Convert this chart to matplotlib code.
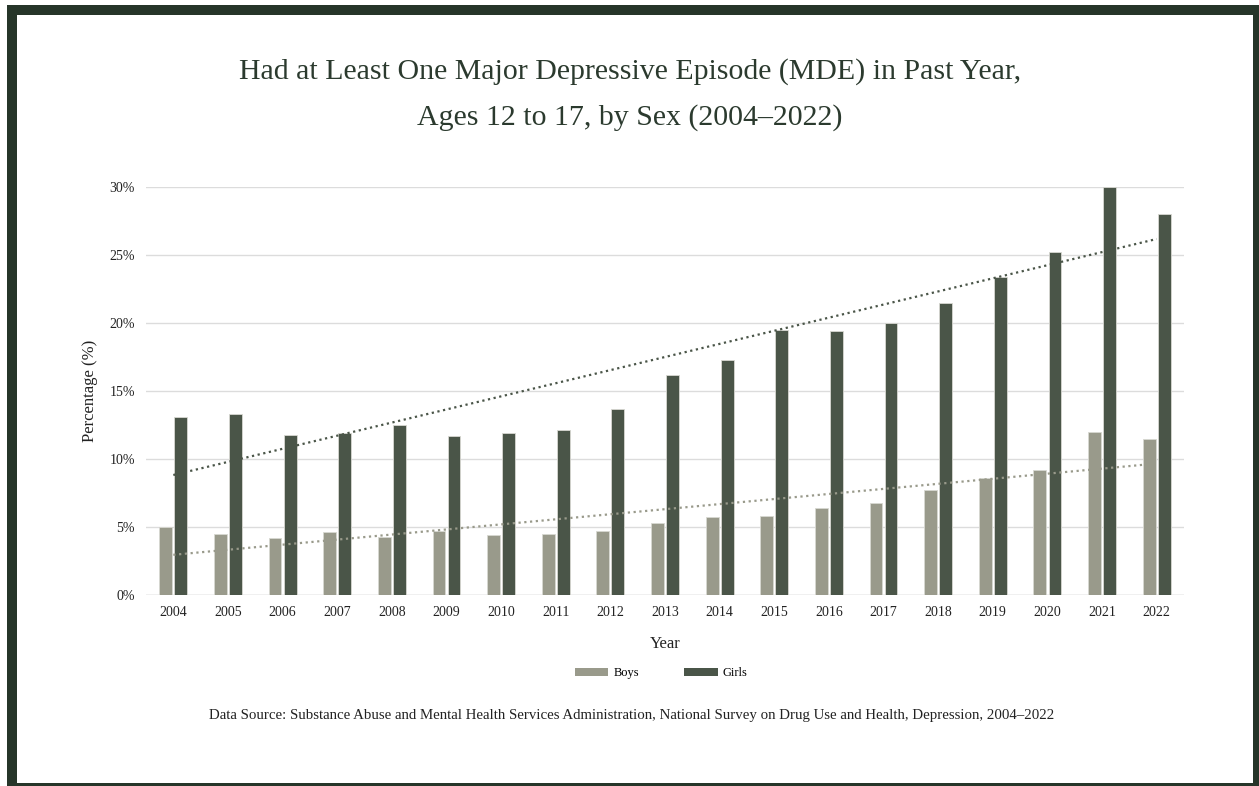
import numpy as np
import matplotlib
matplotlib.use("Agg")
import matplotlib.pyplot as plt
from matplotlib.patches import Rectangle, Patch

years = [str(y) for y in range(2004, 2023)]
boys = [5.0, 4.5, 4.2, 4.6, 4.3, 4.7, 4.4, 4.5, 4.7, 5.3, 5.7, 5.8, 6.4, 6.8, 7.7, 8.6, 9.2, 12.0, 11.5]
girls = [13.1, 13.3, 11.8, 11.9, 12.5, 11.7, 11.9, 12.1, 13.7, 16.2, 17.3, 19.5, 19.4, 20.0, 21.5, 23.4, 25.2, 30.0, 28.0]
yticks = [0, 5, 10, 15, 20, 25, 30]

BOYS_C = "#999a8b"
GIRLS_C = "#4a5548"
FRAME_C = "#263529"
TEXT_C = "#222222"

plt.rcParams['font.family'] = ['Liberation Serif', 'DejaVu Serif']

W, H = 1259, 786
fig = plt.figure(figsize=(W / 100, H / 100), dpi=100)
fig.patch.set_facecolor("white")

def fr(x0, y0, x1, y1, color):
    # pixel box (top-left origin) to figure-coordinate rectangle
    fig.patches.append(Rectangle((x0 / W, 1 - y1 / H), (x1 - x0) / W, (y1 - y0) / H,
                                 transform=fig.transFigure, facecolor=color,
                                 edgecolor="none", zorder=-10))

fr(7, 5, W + 2, H + 2, FRAME_C)
fr(17, 15, 1253, 783, "white")

ax = fig.add_axes([146 / W, 1 - 595 / H, (1184 - 146) / W, (595 - 187) / H])
ax.set_facecolor("none")
x = np.arange(len(years))
bw = 0.235
ax.bar(x - bw / 2 - 0.02, boys, bw, color=BOYS_C, edgecolor="#d8d8d2", linewidth=0.6, zorder=2)
ax.bar(x + bw / 2 + 0.02, girls, bw, color=GIRLS_C, edgecolor="#d8d8d2", linewidth=0.6, zorder=2)

# linear trendlines
for vals, c in ((girls, "#4a5548"), (boys, "#999a8b")):
    p = np.polyfit(x, vals, 1)
    ax.plot(x, np.polyval(p, x), linestyle=(0, (1, 1.6)), color=c, linewidth=1.6, zorder=3)

ax.set_xlim(-0.5, len(years) - 0.5)
ax.set_ylim(0, 30)
ax.set_yticks(yticks)
ax.set_yticklabels([f"{v}%" for v in yticks], fontsize=10, color=TEXT_C)
ax.set_xticks(x)
ax.set_xticklabels(years, fontsize=10, color=TEXT_C)
ax.tick_params(length=0, pad=8)
ax.grid(axis="y", color="#dcdcdc", linewidth=1, zorder=0)
for s in ax.spines.values():
    s.set_visible(False)
ax.axhline(0, color="#d0d0d0", linewidth=1, zorder=1)

ax.set_ylabel("Percentage (%)", fontsize=12, color=TEXT_C, labelpad=8)
ax.set_xlabel("Year", fontsize=12, color=TEXT_C, labelpad=12)

fig.text(630 / W, 1 - 72 / H, "Had at Least One Major Depressive Episode (MDE) in Past Year,",
         ha="center", va="center", fontsize=21.5, color="#2b3a2e")
fig.text(630 / W, 1 - 118 / H, "Ages 12 to 17, by Sex (2004–2022)",
         ha="center", va="center", fontsize=21.5, color="#2b3a2e")

handles = [Patch(facecolor=BOYS_C, edgecolor="none"), Patch(facecolor=GIRLS_C, edgecolor="none")]
fig.legend(handles, ["Boys", "Girls"], loc="center", bbox_to_anchor=(661 / W, 1 - 673 / H),
           ncol=2, frameon=False, fontsize=9, handlelength=2.7, handleheight=0.6,
           columnspacing=3.6, handletextpad=0.4)

fig.text(632 / W, 1 - 716 / H,
         "Data Source: Substance Abuse and Mental Health Services Administration, National Survey on Drug Use and Health, Depression, 2004–2022",
         ha="center", va="center", fontsize=10.7, color=TEXT_C)

fig.savefig("out.png", dpi=100, facecolor="white")
